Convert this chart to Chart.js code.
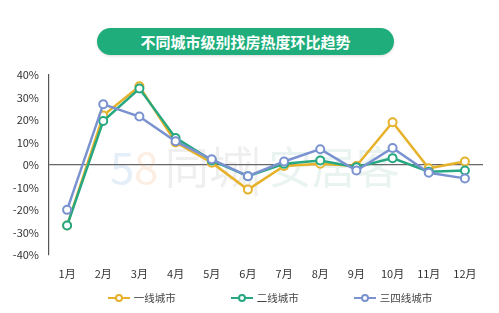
<!DOCTYPE html>
<html>
<head>
<meta charset="utf-8">
<script src="https://cdn.jsdelivr.net/npm/chart.js@4/dist/chart.umd.min.js"></script>
<style>
  html, body { margin: 0; padding: 0; background: #fff; }
  body { width: 499px; height: 313px; position: relative; overflow: hidden;
         font-family: 'Noto Sans CJK SC', 'Noto Sans', sans-serif; }
  #title { position: absolute; left: 97px; top: 28px; width: 297px; height: 27px;
           border-radius: 14px; background: #1fae7b; color: #fff; font-weight: bold;
           font-size: 15px; line-height: 27px; text-align: center;
           box-shadow: 0 1px 3px rgba(0,0,0,0.15); }
  #chart { position: absolute; left: 0; top: 0; }
  #legend { position: absolute; left: 0; top: 290px; width: 540px; display: flex;
            justify-content: center; gap: 55px; font-size: 10.5px; color: #444; }
  #legend .item { display: flex; align-items: center; }
  #legend canvas { margin-right: 4px; }
</style>
</head>
<body>
<div id="title">不同城市级别找房热度环比趋势</div>
<canvas id="chart" width="499" height="313"></canvas>
<div id="legend"></div>
<script>
const months = ['1月', '2月', '3月', '4月', '5月', '6月', '7月', '8月', '9月', '10月', '11月', '12月'];
const seriesNames = ['一线城市', '二线城市', '三四线城市'];
const tier1 = [-27, 22, 35, 10, 1, -11, -0.5, 0.5, -0.5, 19, -1.5, 1.5];
const tier2 = [-27, 19.5, 34, 12, 2, -5, 0.5, 2, -1, 3, -3, -2.5];
const tier34 = [-20, 27, 21.5, 10.5, 2.5, -5, 1.5, 7, -2.5, 7.5, -3.5, -6];
const colors = ['#e6b22c', '#27a882', '#7a92d0'];

// faint watermark behind the lines
const watermark = {
    id: 'watermark',
    beforeDatasetsDraw(chart) {
        const c = chart.ctx;
        c.save();
        c.font = '44px "Noto Sans CJK SC", sans-serif';
        c.textBaseline = 'alphabetic';
        const parts = [
            ['5', 'rgba(90,150,215,0.16)', 110],
            ['8', 'rgba(240,150,80,0.16)', 134],
            ['同城', 'rgba(130,130,130,0.13)', 165],
            ['|', 'rgba(130,130,130,0.13)', 250],
            ['安居客', 'rgba(70,160,120,0.12)', 268]
        ];
        parts.forEach(p => { c.fillStyle = p[1]; c.fillText(p[0], p[2], 184); });
        c.restore();
    }
};

const all = [tier1, tier2, tier34];
const ctx = document.getElementById('chart').getContext('2d');
const chart = new Chart(ctx, {
    type: 'line',
    data: {
        labels: months,
        datasets: all.map((d, i) => ({
            label: seriesNames[i],
            data: d,
            borderColor: colors[i],
            backgroundColor: '#fff',
            borderWidth: 2.5,
            pointRadius: 4,
            pointBorderWidth: 2,
            pointBackgroundColor: '#fff',
            pointBorderColor: colors[i],
            tension: 0,
            order: 2 - i
        }))
    },
    options: {
        responsive: false,
        animation: false,
        layout: { padding: { top: 75, right: 16, bottom: 29, left: 0 } },
        plugins: {
            legend: { display: false },
            tooltip: { enabled: false }
        },
        scales: {
            x: {
                offset: true,
                grid: { display: false },
                border: { display: false },
                ticks: { color: '#333', font: { size: 11, family: "'Noto Sans CJK SC', sans-serif" }, padding: 4, maxRotation: 0 }
            },
            y: {
                min: -40,
                max: 40,
                afterFit(scale) { scale.width = 49; },
                ticks: {
                    stepSize: 10,
                    color: '#333',
                    padding: 10,
                    font: { size: 11, family: "'Noto Sans CJK SC', sans-serif" },
                    callback: v => v + '%'
                },
                grid: {
                    drawTicks: false,
                    color: c => c.tick && c.tick.value === 0 ? '#666' : 'rgba(0,0,0,0)',
                    lineWidth: 1.2
                },
                border: { display: true, color: '#555', width: 1.2 }
            }
        }
    },
    plugins: [watermark]
});

// legend built from the datasets
const legend = document.getElementById('legend');
chart.data.datasets.forEach(ds => {
    const item = document.createElement('div');
    item.className = 'item';
    const icon = document.createElement('canvas');
    icon.width = 22; icon.height = 10;
    const g = icon.getContext('2d');
    g.strokeStyle = ds.borderColor; g.lineWidth = 2;
    g.beginPath(); g.moveTo(0, 5); g.lineTo(22, 5); g.stroke();
    g.fillStyle = '#fff';
    g.beginPath(); g.arc(11, 5, 3, 0, Math.PI * 2); g.fill(); g.stroke();
    const txt = document.createElement('span');
    txt.textContent = ds.label;
    item.appendChild(icon); item.appendChild(txt);
    legend.appendChild(item);
});
</script>
</body>
</html>
